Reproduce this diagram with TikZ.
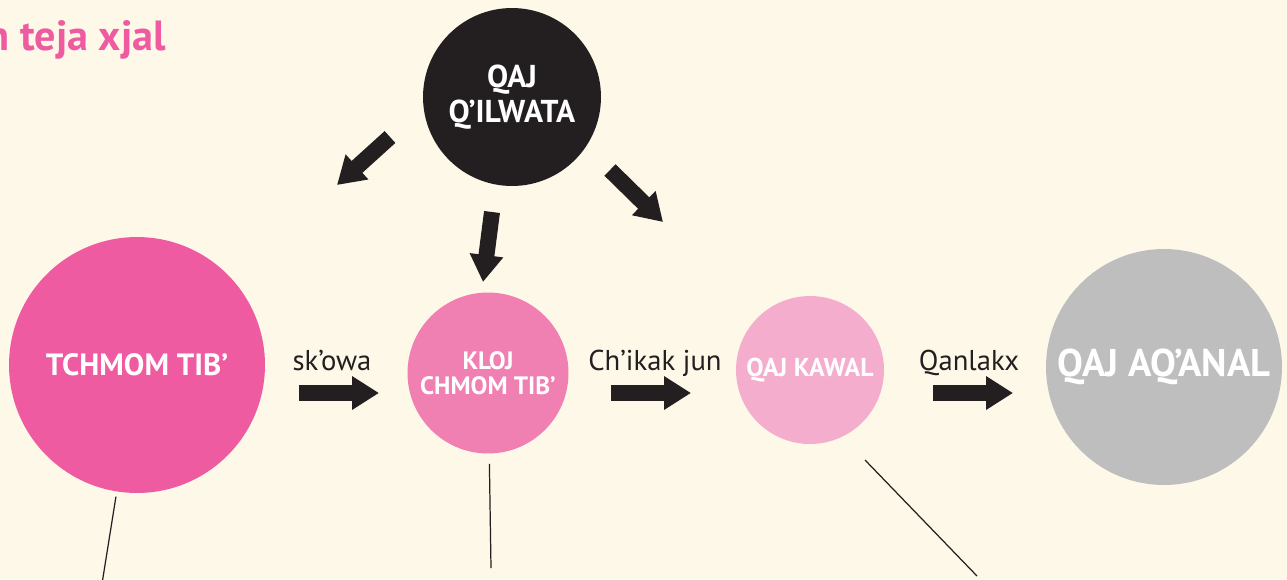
\documentclass[tikz,border=0pt]{standalone}
\usepackage{fontspec}
\setmainfont{PT Sans}
\usetikzlibrary{positioning,calc}
\usetikzlibrary{arrows.meta}
\definecolor{crema}{HTML}{FEF8E8}
\definecolor{nero}{HTML}{231F20}
\definecolor{rosa1}{HTML}{EF5BA1}
\definecolor{rosa2}{HTML}{F080B2}
\definecolor{rosa3}{HTML}{F5ADCE}
\definecolor{grigio}{HTML}{BEBEBE}
\tikzstyle{cerchio} = [circle, inner sep=0pt, text=white, font=\bfseries, align=center]
\tikzstyle{freccia} = [line width=0.32cm, -{Triangle[width=0.64cm,length=0.54cm]}, draw=nero]
\tikzstyle{filo} = [line width=0.7pt, draw=nero]
\tikzstyle{etichetta} = [text=nero, font=\fontsize{16.3}{18}\selectfont]

\begin{document}
\begin{tikzpicture}[x=0.02cm,y=-0.02cm]
						\useasboundingbox (0,0) rectangle (1287,579);
						\fill[crema] (0,0) rectangle (1287,579);
						\clip (0,0) rectangle (1287,579);
						% titolo
						\node (tit) at (166,50) [anchor=base east, inner xsep=0pt, text=rosa1, font=\bfseries\fontsize{24}{28}\selectfont] {n teja xjal};
						% cerchi
						\node (qil) at (512,97) [cerchio, fill=nero, minimum size=3.56cm, font=\bfseries\fontsize{18}{20}\selectfont] {QAJ\\Q’ILWATA};
						\node (tch) at (137,365) [cerchio, fill=rosa1, minimum size=5.12cm, font=\bfseries\fontsize{17.5}{20}\selectfont] {TCHMOM TIB’};
						\node (klo) at (488,373) [cerchio, fill=rosa2, minimum size=3.22cm, font=\bfseries\fontsize{14.3}{14.5}\selectfont] {KLOJ\\CHMOM TIB’};
						\node (kaw) at (810,370) [cerchio, fill=rosa3, minimum size=2.96cm, font=\bfseries\fontsize{14.7}{16}\selectfont] {QAJ KAWAL};
						\node (aqa) at (1164,367) [cerchio, fill=grigio, minimum size=4.72cm, font=\bfseries\fontsize{22}{25}\selectfont] {QAJ AQ’ANAL};
						% frecce dal cerchio nero
						\coordinate (s1) at (390,137); \coordinate (e1) at (337,185);
						\coordinate (s2) at (492,212); \coordinate (e2) at (483,282);
						\coordinate (s3) at (610,170); \coordinate (e3) at (663,222);
						\draw[freccia] (s1) -- (e1);
						\draw[freccia] (s2) -- (e2);
						\draw[freccia] (s3) -- (e3);
						% frecce orizzontali
						\coordinate (h1) at (299,393); \coordinate (k1) at (379,393);
						\coordinate (h2) at (611,393); \coordinate (k2) at (691,393);
						\coordinate (h3) at (933,393); \coordinate (k3) at (1013,393);
						\draw[freccia] (h1) -- (k1);
						\draw[freccia] (h2) -- (k2);
						\draw[freccia] (h3) -- (k3);
						\node (sko) at (332,370) [etichetta, anchor=base] {sk’owa};
						\node (chi) at (655,370) [etichetta, anchor=base] {Ch’ikak jun};
						\node (qan) at (969,370) [etichetta, anchor=base] {Qanlakx};
						% fili
						\coordinate (f1) at (101,590);
						\coordinate (f2) at (491,568);
						\coordinate (g3) at (865,460); \coordinate (f3) at (977,576);
						\draw[filo, shorten <=0.1cm] (tch) -- (f1);
						\draw[filo, shorten <=0.2cm] (klo) -- (f2);
						\draw[filo] (g3) -- (f3);
					\end{tikzpicture}
\end{document}
